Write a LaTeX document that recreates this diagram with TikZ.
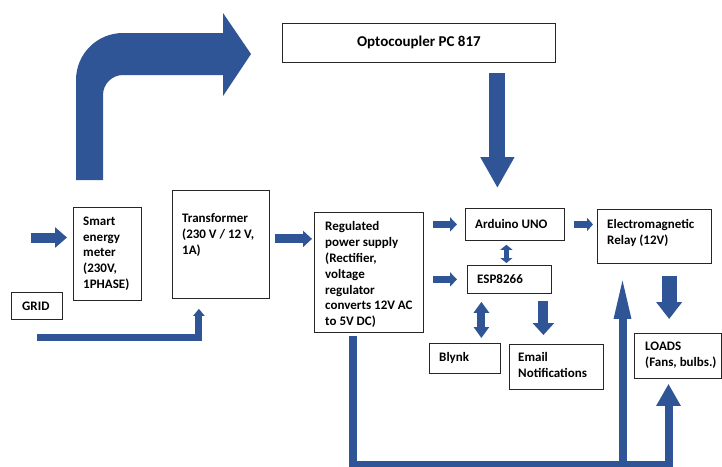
\documentclass[tikz,border=0pt]{standalone}
\usepackage{fontspec}
\setmainfont{Carlito}
\usetikzlibrary{positioning,arrows.meta}

\definecolor{arrowblue}{RGB}{47,85,151}

\begin{document}
\begin{tikzpicture}[
x=1pt, y=-1pt,
blockbox/.style={rectangle, draw=black!85, line width=0.8pt, inner sep=0pt, anchor=north west},
boxtext/.style={font=\bfseries\fontsize{13}{15.8}\selectfont, align=left, inner sep=0pt},
bluearrow/.style n args={3}{draw=arrowblue, line width=#1, line join=miter, -{Triangle[length=#2, width=#3]}},
bluedouble/.style n args={3}{draw=arrowblue, line width=#1, {Triangle[length=#2, width=#3]}-{Triangle[length=#2, width=#3]}},
]
\useasboundingbox (0,0) rectangle (722,466);

% Boxes
\node[blockbox, minimum width=273pt, minimum height=39pt, font=\bfseries\fontsize{15}{18}\selectfont] (opto) at (282,23) {Optocoupler PC 817};
\node[blockbox, minimum width=68pt, minimum height=93pt] (meter) at (73,207) {};
\node[blockbox, minimum width=51pt, minimum height=27pt] (grid) at (11,292) {};
\node[blockbox, minimum width=97pt, minimum height=108pt] (trans) at (172,190) {};
\node[blockbox, minimum width=109pt, minimum height=120pt] (reg) at (314,212) {};
\node[blockbox, minimum width=99pt, minimum height=32pt] (arduino) at (465,208) {};
\node[blockbox, minimum width=84pt, minimum height=28pt] (esp) at (467,265) {};
\node[blockbox, minimum width=71pt, minimum height=30pt] (blynk) at (429,343) {};
\node[blockbox, minimum width=94pt, minimum height=45pt] (email) at (509,344) {};
\node[blockbox, minimum width=114pt, minimum height=54pt] (relay) at (597,209) {};
\node[blockbox, minimum width=86.5pt, minimum height=45pt] (loads) at (634,333) {};

% Texts
\node[boxtext, below right=9.5pt and 10pt of meter.north west] (metertext) {Smart\\energy\\meter\\(230V,\\1PHASE)};
\node[boxtext, right=11pt of grid.west] (gridtext) {GRID};
\node[boxtext, below right=23.5pt and 10pt of trans.north west] (transtext) {Transformer\\(230 V / 12 V,\\1A)};
\node[boxtext, below right=9.5pt and 11pt of reg.north west] (regtext) {Regulated\\power supply\\(Rectifier,\\voltage\\regulator\\converts 12V AC\\to 5V DC)};
\node[boxtext, right=10pt of arduino.west] (arduinotext) {Arduino UNO};
\node[boxtext, right=10pt of esp.west] (esptext) {ESP8266};
\node[boxtext, right=10pt of blynk.west] (blynktext) {Blynk};
\node[boxtext, below right=8.5pt and 9pt of email.north west] (emailtext) {Email\\Notifications};
\node[boxtext, below right=10.5pt and 10pt of relay.north west] (relaytext) {Electromagnetic\\Relay (12V)};
\node[boxtext, below right=8.5pt and 11pt of loads.north west] (loadstext) {LOADS\\(Fans, bulbs.)};

% Bent arrow
\fill[arrowblue] (76,180) -- (76,80) .. controls (76,54) and (97,33) .. (123,33)
  -- (223,33) -- (223,13) -- (251,54) -- (223,96) -- (223,75) -- (123,75)
  .. controls (112,75) and (103,84) .. (103,95) -- (103,180) -- cycle;

% Arrows
\coordinate (gridin) at (31,237.5);
\coordinate (gridline) at (37,337.5);
\coordinate (ardtop) at ([xshift=-17.5pt]arduino.north);
\draw[bluearrow={10pt}{12pt}{20pt}, shorten >=6pt] (gridin) -- (gridin -| meter.west);
\draw[bluearrow={7pt}{7pt}{11pt}, shorten >=10pt] (gridline) -| ([xshift=-22pt]trans.south);
\draw[bluearrow={16pt}{31pt}{32pt}, shorten <=10pt, shorten >=20pt] (opto.south -| ardtop) -- (ardtop);
\draw[bluearrow={9pt}{9pt}{16pt}, shorten <=5pt, shorten >=2pt] ([yshift=5.5pt]trans.east) -- ([yshift=5.5pt]trans.east -| reg.west);
\draw[bluearrow={6.5pt}{7pt}{14pt}, shorten <=9pt, shorten >=8pt] (arduino.west -| reg.east) -- (arduino.west);
\draw[bluearrow={6.5pt}{7pt}{14pt}, shorten <=9pt, shorten >=10pt] (esp.west -| reg.east) -- (esp.west);
\draw[bluedouble={5pt}{5pt}{12pt}, shorten <=2pt, shorten >=4pt] ([xshift=-3pt]esp.north) -- ([xshift=-3pt]esp.north |- arduino.south);
\draw[bluedouble={8pt}{11pt}{15pt}, shorten <=5pt, shorten >=8pt] ([xshift=16.5pt]blynk.north) -- ([xshift=16.5pt]blynk.north |- esp.south);
\draw[bluearrow={10pt}{12pt}{21pt}, shorten <=7pt, shorten >=9pt] ([xshift=-13pt]email.north |- esp.south) -- ([xshift=-13pt]email.north);
\draw[bluearrow={7pt}{6pt}{13pt}, shorten <=9pt, shorten >=4pt] (arduino.east) -- (arduino.east -| relay.west);
\draw[bluearrow={15pt}{17pt}{25pt}, shorten <=12pt, shorten >=14pt] ([xshift=-8.5pt]loads.north |- relay.south) -- ([xshift=-8.5pt]loads.north);

% Bus to relay and loads
\coordinate (busleft) at (353,465);
\coordinate (busmid) at (622.5,465);
\coordinate (busright) at (668.5,465);
\draw[bluearrow={8pt}{22pt}{23pt}, shorten <=3pt, shorten >=5pt] (reg.south -| busleft) -- (busleft) -- (busright) -- (busright |- loads.south);
\draw[bluearrow={8pt}{45pt}{15pt}, shorten >=10pt] (busmid) -- (busmid |- relay.south);

\end{tikzpicture}
\end{document}
